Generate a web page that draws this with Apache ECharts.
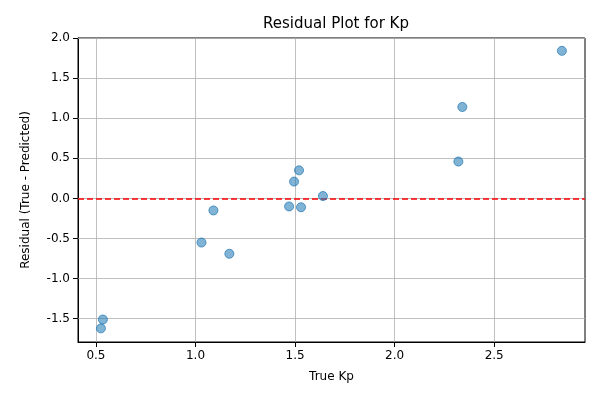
<!DOCTYPE html>
<html>
<head>
<meta charset="utf-8">
<script src="https://cdn.jsdelivr.net/npm/echarts@6/dist/echarts.min.js"></script>
<style>html,body{margin:0;padding:0;background:#fff}#main{width:600px;height:400px}</style>
</head>
<body>
<div id="main"></div>
<script>
var trueKp = [2.84, 2.34, 2.32, 1.52, 1.495, 1.64, 1.47, 1.53, 1.09, 1.03, 1.17, 0.535, 0.525];
var residual = [1.84, 1.14, 0.46, 0.35, 0.21, 0.03, -0.10, -0.11, -0.15, -0.55, -0.69, -1.51, -1.62];
var xTicks = [0.5, 1.0, 1.5, 2.0, 2.5];
var yTicks = [-1.5, -1.0, -0.5, 0.0, 0.5, 1.0, 1.5, 2.0];

var points = trueKp.map(function (x, i) { return [x, residual[i]]; });
var font = 'DejaVu Sans';
var gridLines = xTicks.map(function (v) { return { xAxis: v }; })
  .concat(yTicks.map(function (v) { return { yAxis: v }; }));

var chartDom = document.getElementById('main');
var myChart = echarts.init(chartDom);
var option = {
  animation: false,
  title: {
    text: 'Residual Plot for Kp',
    left: 331, top: 12, textAlign: 'center',
    textStyle: { fontFamily: font, fontSize: 15, fontWeight: 'normal', color: '#000' }
  },
  grid: { left: 78, right: 15, top: 38, bottom: 58, show: true, borderColor: '#000', borderWidth: 1 },
  xAxis: {
    type: 'value', min: 0.41, max: 2.956,
    name: 'True Kp', nameLocation: 'middle', nameGap: 29,
    nameTextStyle: { fontFamily: font, fontSize: 12, color: '#000' },
    axisLine: { show: true, onZero: false, lineStyle: { color: '#000' } },
    axisTick: { show: true, customValues: xTicks, lineStyle: { color: '#000' } },
    axisLabel: { customValues: xTicks, fontFamily: font, fontSize: 12, color: '#000',
      formatter: function (v) { return v.toFixed(1); } },
    splitLine: { show: false }
  },
  yAxis: {
    type: 'value', min: -1.79, max: 2.0,
    name: 'Residual (True - Predicted)', nameLocation: 'middle', nameGap: 46,
    nameTextStyle: { fontFamily: font, fontSize: 12, color: '#000' },
    axisLine: { show: true, onZero: false, lineStyle: { color: '#000' } },
    axisTick: { show: true, customValues: yTicks, lineStyle: { color: '#000' } },
    axisLabel: { customValues: yTicks, fontFamily: font, fontSize: 12, color: '#000',
      formatter: function (v) { return v.toFixed(1); } },
    splitLine: { show: false }
  },
  series: [
    {
      type: 'line', data: [], silent: true,
      markLine: { symbol: 'none', silent: true, label: { show: false },
        lineStyle: { color: '#b0b0b0', width: 0.8, type: 'solid' }, data: gridLines }
    },
    {
      type: 'scatter', data: points, symbolSize: 9, z: 5,
      itemStyle: { color: 'rgba(31,119,180,0.7)', borderColor: 'rgba(31,119,180,0.9)', borderWidth: 1 },
      markLine: { symbol: 'none', silent: true, label: { show: false },
        lineStyle: { color: '#ff0000', width: 1.5, type: [6, 3] }, data: [{ yAxis: 0 }] }
    }
  ]
};
myChart.setOption(option);
window.onresize = function () { myChart.resize(); };
</script>
</body>
</html>
